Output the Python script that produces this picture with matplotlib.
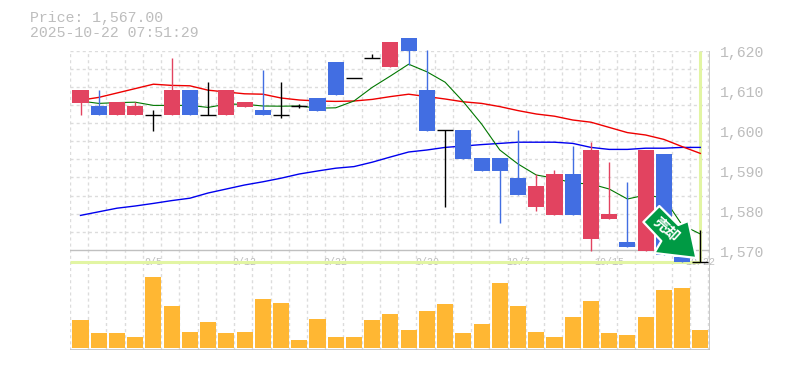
import matplotlib

matplotlib.use("Agg")
import matplotlib.pyplot as plt
import numpy as np
from matplotlib.patches import Polygon, Rectangle
from matplotlib.transforms import Affine2D

opens = [1607.6, 1606.75, 1604.5, 1604.5, 1604.6, 1604.5, 1610.75, 1604.6, 1604.5, 1606.5,
         1605.75, 1604.6, 1606.75, 1608.75, 1617.75, 1613.75, 1618.75, 1616.5, 1623.75, 1610.75,
         1600.75, 1600.75, 1593.75, 1593.75, 1588.75, 1581.5, 1579.5, 1589.75, 1573.5, 1578.5,
         1572.75, 1570.5, 1594.75, 1568.9, 1567.75]
closes = [1610.75, 1604.5, 1607.75, 1606.75, 1604.6, 1610.75, 1604.5, 1604.6, 1610.75, 1607.75,
          1604.5, 1604.6, 1606.75, 1605.5, 1609.5, 1613.75, 1618.75, 1622.75, 1620.5, 1600.5,
          1600.75, 1593.5, 1590.5, 1590.5, 1584.5, 1586.75, 1589.75, 1579.5, 1595.75, 1579.75,
          1571.5, 1595.75, 1569.5, 1567.7, 1567.75]
highs = [1610.75, 1610.75, 1607.75, 1607.75, 1605.75, 1618.75, 1610.75, 1612.75, 1610.75, 1607.75,
         1615.75, 1612.75, 1607.25, 1608.75, 1617.75, 1613.75, 1619.75, 1622.75, 1623.75, 1620.75,
         1600.75, 1600.75, 1593.75, 1593.75, 1600.75, 1589.75, 1590.75, 1596.75, 1597.75, 1592.75,
         1587.75, 1595.75, 1594.75, 1568.9, 1575.75]
lows = [1604.5, 1604.5, 1604.5, 1604.5, 1600.6, 1604.5, 1604.5, 1604.6, 1604.5, 1606.5,
        1604.5, 1603.75, 1606.25, 1605.5, 1609.5, 1613.75, 1618.75, 1616.5, 1617.0, 1600.5,
        1581.6, 1593.5, 1590.5, 1577.6, 1584.5, 1580.5, 1579.5, 1579.5, 1570.5, 1578.5,
        1571.5, 1570.5, 1569.5, 1567.7, 1567.75]

ma_short = [1608.0, 1607.4, 1607.6, 1607.7, 1606.9, 1606.9, 1606.9, 1606.4, 1607.2, 1607.2,
            1606.75, 1606.7, 1606.75, 1606.2, 1606.3, 1608.0, 1611.4, 1614.25, 1617.2, 1615.3,
            1612.7, 1607.8, 1602.25, 1595.75, 1592.25, 1589.5, 1588.7, 1587.5, 1587.25, 1586.0,
            1583.5, 1584.5, 1583.75, 1577.0, 1574.75]
ma_mid = [1608.2, 1608.9, 1610.0, 1611.1, 1612.2, 1611.9, 1611.8, 1610.7, 1610.25, 1609.8,
          1609.7, 1608.75, 1608.25, 1608.0, 1607.9, 1608.0, 1608.4, 1609.1, 1609.7, 1609.1,
          1608.5, 1607.8, 1607.4, 1606.6, 1605.6, 1604.75, 1604.2, 1603.25, 1602.7, 1601.4,
          1600.1, 1599.5, 1598.4, 1596.6, 1594.9]
ma_long = [1579.4, 1580.3, 1581.2, 1581.75, 1582.4, 1583.1, 1583.7, 1585.0, 1586.0, 1587.0,
           1587.8, 1588.7, 1589.75, 1590.5, 1591.2, 1591.6, 1592.7, 1594.0, 1595.25, 1595.75,
           1596.4, 1596.75, 1597.1, 1597.4, 1597.7, 1597.7, 1597.7, 1597.4, 1596.4, 1595.9,
           1595.9, 1596.2, 1596.2, 1596.4, 1596.4]

volumes = [27.7, 14.7, 14.7, 10.7, 70.7, 41.7, 15.7, 25.7, 14.7, 15.7, 48.7, 44.7, 7.7, 28.7,
           10.7, 10.7, 27.7, 33.7, 17.7, 36.7, 43.7, 14.7, 23.7, 64.7, 41.7, 15.7, 10.7, 30.7,
           46.7, 14.7, 12.7, 30.7, 57.7, 59.7, 17.7]

date_positions = [4, 9, 14, 19, 24, 29, 34]
date_labels = ["9/5", "9/12", "9/22", "9/30", "10/7", "10/15", "10/22"]
price_ticks = [1620, 1610, 1600, 1590, 1580, 1570]
price_labels = ["1,620", "1,610", "1,600", "1,590", "1,580", "1,570"]
title_lines = ["Price: 1,567.00", "2025-10-22 07:51:29"]

UP = "#e24360"
DOWN = "#426ee2"
GRID = "#dcdcdc"
AXIS = "#c0c0c0"
LABEL = "#bdbdbd"
CROSS = "#e2f5a3"
MONO = "Liberation Mono"

W, H = 785, 370
fig = plt.figure(figsize=(W / 100, H / 100), dpi=100)


def px_axes(left, top, right, bottom):
    return fig.add_axes([left / W, 1 - bottom / H, (right - left) / W, (bottom - top) / H])


# price panel runs down to the crosshair, volume panel sits under it
ax = px_axes(70, 51, 710, 262)
ax.set_xlim(-0.576, 34.53)
ax.set_ylim(1620.5 - (262 - 51) / 4, 1620.5)
ax_vol = px_axes(70, 262, 710, 350)
ax_vol.set_xlim(ax.get_xlim())
ax_vol.set_ylim(-2.3, 85.7)

for a in (ax, ax_vol):
    a.patch.set_visible(False)
    for side in ("top", "left", "bottom", "right"):
        a.spines[side].set_visible(False)
    a.set_xticks([])
    a.set_yticks([])

# background grid spans both panels, every 18.2 px
bg = px_axes(70, 51, 710, 350)
bg.set_zorder(-1)
bg.set_xlim(70, 710)
bg.set_ylim(350, 51)
bg.axis("off")
for gx in np.arange(70, 709, 18.23):
    bg.axvline(gx, color=GRID, lw=1, ls=(0, (2.2, 2.2)))
for gy in np.arange(50.7, 240, 18.1):
    bg.axhline(gy, color=GRID, lw=1, ls=(0, (2.2, 2.2)))
bg.plot([70, 709], [250, 250], color=AXIS, lw=1)
bg.plot([70, 710], [350, 350], color=AXIS, lw=1.2)
bg.plot([710, 710], [51, 350], color=AXIS, lw=1.2)

x = np.arange(len(opens))
ax.plot(x, ma_long, color="#0000ee", lw=1, zorder=2)
ax.plot(x, ma_mid, color="#ee0000", lw=1, zorder=2)
ax.plot(x, ma_short, color="#007700", lw=0.8, zorder=2)

# crosshair on the last candle
ax.plot([-0.576, x[-1]], [closes[-1], closes[-1]], color=CROSS, lw=2.2, zorder=1, clip_on=False,
        solid_capstyle="butt")
ax.plot([x[-1], x[-1]], [closes[-1], 1620.5], color=CROSS, lw=2.2, zorder=1, clip_on=False,
        solid_capstyle="butt")

for i in x:
    o, c, hi, lo = opens[i], closes[i], highs[i], lows[i]
    if o == c:
        color = "black"
    elif c > o:
        color = UP
    else:
        color = DOWN
    ax.plot([i, i], [lo, hi], color=color, lw=1, zorder=3, clip_on=False, solid_capstyle="butt")
    if o == c:
        ax.plot([i - 0.44, i + 0.44], [c, c], color=color, lw=1, zorder=3, clip_on=False,
                solid_capstyle="butt")
    else:
        ax.add_patch(Rectangle((i - 0.44, min(o, c)), 0.88, abs(c - o), facecolor=color,
                               edgecolor="none", zorder=3, clip_on=False))

ax_vol.bar(x, volumes, width=0.88, color="#ffb733", zorder=3)

for tick, label in zip(price_ticks, price_labels):
    ax.text(720, ax.transData.transform((0, tick))[1], label, transform=None, fontsize=10.75,
            family=MONO, color=LABEL, va="center", ha="left")
for pos, label in zip(date_positions, date_labels):
    ax.text(pos, closes[-1], label, fontsize=7.2, family=MONO, color=LABEL, va="center", ha="center",
            zorder=0.5, clip_on=False)

fig.text(30 / W, 1 - 18 / H, title_lines[0], fontsize=10.75, family=MONO, color=LABEL, va="center")
fig.text(30 / W, 1 - 33 / H, title_lines[1], fontsize=10.75, family=MONO, color=LABEL, va="center")

# sell badge, offsets in px from the last candle with y pointing up
tip_x, tip_y = ax.transData.transform((x[-1], lows[-1]))
arrow = [(-41, 56), (-57, 40), (-39, 21), (-46, 9), (-4, 4), (-12, 41), (-22, 37)]
place = Affine2D().translate(tip_x, tip_y)
fig.add_artist(Polygon(arrow, closed=True, facecolor="#009a44", edgecolor="white", lw=1.6,
                       joinstyle="round", transform=place, zorder=10))
fig.text((tip_x - 34) / W, (tip_y + 33) / H, "売却", family=["Noto Sans CJK JP", "DejaVu Sans"],
         fontsize=10.5, fontweight="bold", color="white", rotation=-42, ha="center", va="center",
         zorder=11)

fig.savefig("out.png", dpi=100)
